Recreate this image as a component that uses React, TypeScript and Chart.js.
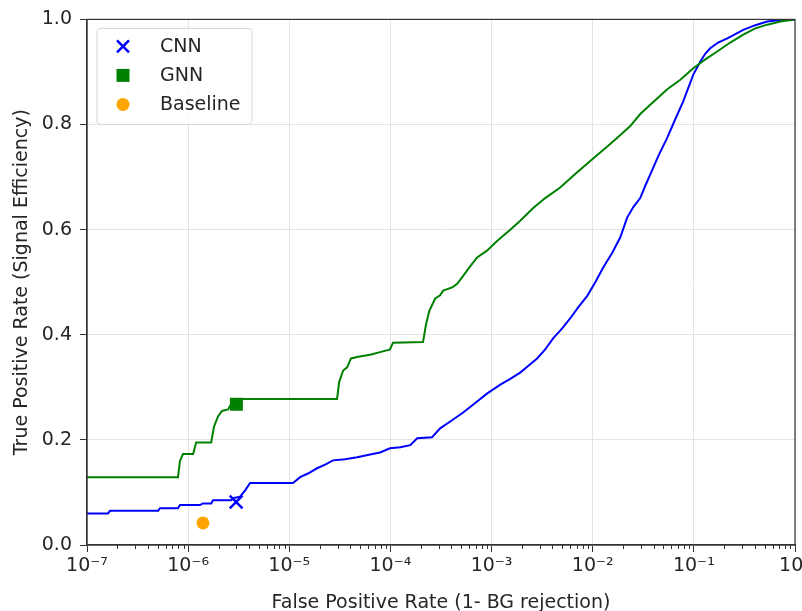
import React, { useEffect, useRef } from 'react';
import { Chart, registerables } from 'chart.js';

Chart.register(...registerables);

// ---- Data ----
const xTickValues = [1e-7, 1e-6, 1e-5, 1e-4, 1e-3, 1e-2, 1e-1, 1];
const xTickLabels = ['10⁻⁷', '10⁻⁶', '10⁻⁵', '10⁻⁴', '10⁻³', '10⁻²', '10⁻¹', '10⁰'];
const yTickValues = [0, 0.2, 0.4, 0.6, 0.8, 1.0];

const cnnFpr = [
  1e-7, 1.61e-7, 1.69e-7, 5.04e-7, 5.27e-7, 7.94e-7, 8.3e-7, 1.31e-6, 1.4e-6, 1.69e-6,
  1.76e-6, 2.66e-6, 2.78e-6, 3.26e-6, 3.66e-6, 4.1e-6, 1.09e-5, 1.28e-5, 1.53e-5, 1.88e-5,
  2.26e-5, 2.71e-5, 3.56e-5, 4.69e-5, 6.3e-5, 7.9e-5, 9.9e-5, 1.25e-4, 1.57e-4, 1.84e-4,
  2.58e-4, 3.1e-4, 3.9e-4, 5.24e-4, 6.89e-4, 9.0e-4, 1.22e-3, 1.53e-3, 1.92e-3, 2.41e-3,
  2.82e-3, 3.39e-3, 4.06e-3, 4.99e-3, 5.98e-3, 7.18e-3, 8.83e-3, 1.06e-2, 1.27e-2, 1.56e-2,
  1.87e-2, 2.19e-2, 2.52e-2, 2.95e-2, 3.3e-2, 3.71e-2, 4.45e-2, 5.46e-2, 6.55e-2, 7.85e-2,
  9.87e-2, 0.116, 0.13, 0.145, 0.174, 0.214, 0.257, 0.308, 0.405, 0.532, 0.716, 1.0,
];
const cnnTpr = [
  0.06, 0.06, 0.065, 0.065, 0.07, 0.07, 0.076, 0.076, 0.079, 0.079,
  0.085, 0.085, 0.089, 0.092, 0.104, 0.118, 0.118, 0.129, 0.136, 0.146,
  0.153, 0.161, 0.163, 0.167, 0.172, 0.176, 0.184, 0.186, 0.19, 0.203,
  0.205, 0.222, 0.235, 0.252, 0.27, 0.288, 0.305, 0.316, 0.328, 0.344,
  0.355, 0.372, 0.393, 0.412, 0.431, 0.452, 0.474, 0.5, 0.528, 0.556,
  0.585, 0.623, 0.643, 0.66, 0.683, 0.705, 0.74, 0.775, 0.81, 0.844,
  0.895, 0.92, 0.935, 0.945, 0.956, 0.964, 0.972, 0.98, 0.989, 0.996, 0.999, 1.0,
];

const gnnFpr = [
  1e-7, 7.94e-7, 8.3e-7, 8.9e-7, 1.12e-6, 1.2e-6, 1.69e-6, 1.8e-6, 1.98e-6, 2.16e-6,
  2.48e-6, 2.66e-6, 3.41e-6, 2.97e-5, 3.11e-5, 3.41e-5, 3.73e-5, 4.08e-5, 4.8e-5, 6.3e-5,
  7.9e-5, 9.9e-5, 1.06e-4, 2.1e-4, 2.25e-4, 2.42e-4, 2.77e-4, 3.1e-4, 3.32e-4, 4.08e-4,
  4.57e-4, 5.24e-4, 6.14e-4, 7.2e-4, 9.0e-4, 1.14e-3, 1.53e-3, 1.92e-3, 2.58e-3, 3.39e-3,
  4.77e-3, 6.71e-3, 9.9e-3, 1.33e-2, 1.75e-2, 2.35e-2, 2.95e-2, 3.97e-2, 5.46e-2, 7.35e-2,
  9.87e-2, 0.13, 0.17, 0.229, 0.308, 0.405, 0.532, 0.716, 1.0,
];
const gnnTpr = [
  0.129, 0.129, 0.16, 0.173, 0.173, 0.195, 0.195, 0.225, 0.245, 0.255,
  0.258, 0.268, 0.278, 0.278, 0.31, 0.332, 0.338, 0.355, 0.358, 0.362,
  0.367, 0.372, 0.385, 0.386, 0.42, 0.445, 0.469, 0.475, 0.484, 0.49,
  0.497, 0.512, 0.53, 0.547, 0.56, 0.579, 0.6, 0.617, 0.641, 0.66,
  0.68, 0.706, 0.734, 0.755, 0.775, 0.797, 0.82, 0.843, 0.867, 0.885,
  0.907, 0.924, 0.939, 0.956, 0.971, 0.983, 0.99, 0.996, 1.0,
];

const cnnPoint = { x: 2.98e-6, y: 0.082 };
const gnnPoint = { x: 3.0e-6, y: 0.268 };
const baselinePoint = { x: 1.4e-6, y: 0.042 };

const legendLabels = ['CNN', 'GNN', 'Baseline'];

const BLUE = '#0000ff';
const GREEN = '#008000';
const ORANGE = '#ffa500';
const TEXT = '#262626';
const FONT = 'DejaVu Sans';

const zip = (xs: number[], ys: number[]) => xs.map((x, i) => ({ x, y: ys[i] }));

const framePlugin = {
  id: 'frameAndLegend',
  afterDraw(chart: any) {
    const { ctx, chartArea } = chart;
    const { left, right, top, bottom } = chartArea;
    const xScale = chart.scales.x;
    ctx.save();
    // minor ticks on the log axis
    ctx.strokeStyle = '#333';
    ctx.lineWidth = 1;
    for (let e = -7; e < 0; e++) {
      for (let m = 2; m <= 9; m++) {
        const px = Math.round(xScale.getPixelForValue(m * Math.pow(10, e))) + 0.5;
        ctx.beginPath();
        ctx.moveTo(px, bottom);
        ctx.lineTo(px, bottom + 4);
        ctx.stroke();
      }
    }
    // full frame
    ctx.strokeStyle = '#333';
    ctx.lineWidth = 1.2;
    ctx.strokeRect(left, top, right - left, bottom - top);

    // legend box
    const bx = left + 10;
    const by = top + 9;
    const bw = 155;
    const bh = 96;
    const r = 4;
    ctx.beginPath();
    ctx.moveTo(bx + r, by);
    ctx.lineTo(bx + bw - r, by);
    ctx.quadraticCurveTo(bx + bw, by, bx + bw, by + r);
    ctx.lineTo(bx + bw, by + bh - r);
    ctx.quadraticCurveTo(bx + bw, by + bh, bx + bw - r, by + bh);
    ctx.lineTo(bx + r, by + bh);
    ctx.quadraticCurveTo(bx, by + bh, bx, by + bh - r);
    ctx.lineTo(bx, by + r);
    ctx.quadraticCurveTo(bx, by, bx + r, by);
    ctx.closePath();
    ctx.fillStyle = 'rgba(255,255,255,0.8)';
    ctx.fill();
    ctx.strokeStyle = '#d6d6d6';
    ctx.lineWidth = 1;
    ctx.stroke();

    const mx = left + 36;
    const tx = left + 73;
    const rows = [top + 27, top + 56, top + 85];
    // CNN x marker
    ctx.strokeStyle = BLUE;
    ctx.lineWidth = 2.5;
    ctx.beginPath();
    ctx.moveTo(mx - 6, rows[0] - 6);
    ctx.lineTo(mx + 6, rows[0] + 6);
    ctx.moveTo(mx + 6, rows[0] - 6);
    ctx.lineTo(mx - 6, rows[0] + 6);
    ctx.stroke();
    // GNN square
    ctx.fillStyle = GREEN;
    ctx.fillRect(mx - 6.5, rows[1] - 6.5, 13, 13);
    // Baseline circle
    ctx.fillStyle = ORANGE;
    ctx.beginPath();
    ctx.arc(mx, rows[2], 6.5, 0, Math.PI * 2);
    ctx.fill();

    ctx.fillStyle = TEXT;
    ctx.font = `19px "${FONT}"`;
    ctx.textAlign = 'left';
    ctx.textBaseline = 'middle';
    legendLabels.forEach((t, i) => ctx.fillText(t, tx, rows[i] + 1));
    ctx.restore();
  },
};

export default function App() {
  const ref = useRef<HTMLCanvasElement | null>(null);

  useEffect(() => {
    if (!ref.current) return;
    const chart = new Chart(ref.current, {
      type: 'scatter',
      data: {
        datasets: [
          {
            label: 'CNN',
            data: [cnnPoint],
            pointStyle: 'crossRot',
            pointRadius: 9,
            borderColor: BLUE,
            backgroundColor: BLUE,
            pointBorderWidth: 2.5,
            order: 0,
          },
          {
            label: 'GNN',
            data: [gnnPoint],
            pointStyle: 'rect',
            pointRadius: 9.2,
            borderColor: GREEN,
            backgroundColor: GREEN,
            pointBorderWidth: 0,
            order: 0,
          },
          {
            label: 'Baseline',
            data: [baselinePoint],
            pointStyle: 'circle',
            pointRadius: 6.5,
            borderColor: ORANGE,
            backgroundColor: ORANGE,
            pointBorderWidth: 0,
            order: 0,
          },
          {
            label: 'GNN ROC',
            data: zip(gnnFpr, gnnTpr),
            showLine: true,
            borderColor: GREEN,
            borderWidth: 2,
            pointRadius: 0,
            tension: 0,
            order: 1,
          },
          {
            label: 'CNN ROC',
            data: zip(cnnFpr, cnnTpr),
            showLine: true,
            borderColor: BLUE,
            borderWidth: 2,
            pointRadius: 0,
            tension: 0,
            order: 2,
          },
        ],
      },
      options: {
        responsive: false,
        animation: false,
        events: [],
        layout: { padding: { top: 18, right: 35, bottom: 0, left: 0 } },
        plugins: {
          legend: { display: false },
          tooltip: { enabled: false },
        },
        scales: {
          x: {
            type: 'logarithmic',
            min: 1e-7,
            max: 1,
            afterBuildTicks: (axis: any) => {
              axis.ticks = xTickValues.map((v) => ({ value: v }));
            },
            afterFit: (axis: any) => {
              axis.height = 75;
            },
            ticks: {
              autoSkip: false,
              maxRotation: 0,
              minRotation: 0,
              padding: 3,
              color: TEXT,
              font: { family: FONT, size: 19 },
              callback: (_v: any, i: number) => xTickLabels[i],
            },
            grid: {
              color: '#e4e4e4',
              lineWidth: 1,
              tickColor: '#333',
              tickLength: 7,
              tickWidth: 1,
            },
            border: { color: '#333', width: 1.2 },
            title: {
              display: true,
              text: 'False Positive Rate (1- BG rejection)',
              color: TEXT,
              font: { family: FONT, size: 19 },
              padding: { top: 0, bottom: 5.6 },
            },
          },
          y: {
            type: 'linear',
            min: 0,
            max: 1,
            afterBuildTicks: (axis: any) => {
              axis.ticks = yTickValues.map((v) => ({ value: v }));
            },
            afterFit: (axis: any) => {
              axis.width = 87;
            },
            ticks: {
              padding: 8,
              color: TEXT,
              font: { family: FONT, size: 19 },
              callback: (v: any) => Number(v).toFixed(1),
            },
            grid: {
              color: '#e4e4e4',
              lineWidth: 1,
              tickColor: '#333',
              tickLength: 7,
              tickWidth: 1,
            },
            border: { color: '#333', width: 1.2 },
            title: {
              display: true,
              text: 'True Positive Rate (Signal Efficiency)',
              color: TEXT,
              font: { family: FONT, size: 19 },
              padding: { top: 10.6, bottom: 0 },
            },
          },
        },
      },
      plugins: [framePlugin],
    } as any);
    return () => chart.destroy();
  }, []);

  return (
    <div
      style={{
        position: 'absolute',
        left: 0,
        top: 0,
        width: 802,
        height: 611,
        overflow: 'hidden',
        background: '#fff',
      }}
    >
      <canvas ref={ref} width={830} height={620} style={{ display: 'block', width: 830, height: 620 }} />
    </div>
  );
}
